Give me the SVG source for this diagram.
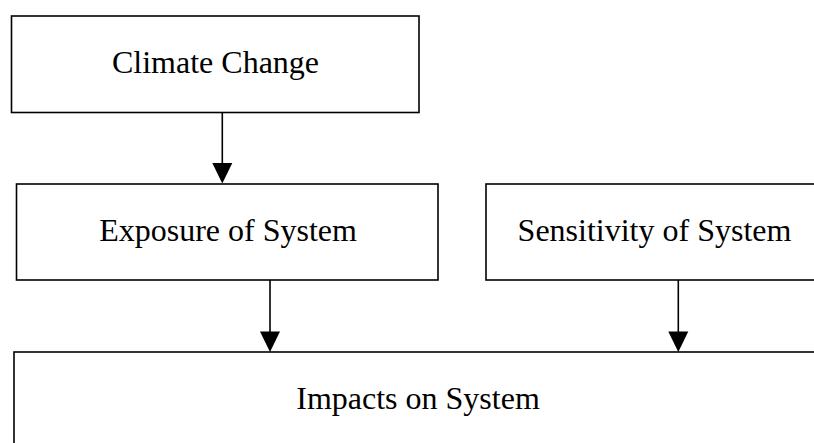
<svg xmlns="http://www.w3.org/2000/svg" width="814" height="443" viewBox="0 0 814 443">
<style>
.box{fill:#fff;stroke:#000;stroke-width:1.6}
.lbl{font-family:"Liberation Serif","Times New Roman",serif;font-size:32px;fill:#000;text-anchor:middle}
.ln{stroke:#000;stroke-width:1.6;fill:none}
.ah{fill:#000}
</style>
<rect width="814" height="443" fill="#fff"/>
<g id="climate-change">
<rect class="box" x="11.5" y="16" width="407.5" height="96.5"/>
<text class="lbl" x="215.5" y="73">Climate Change</text>
</g>
<g id="exposure">
<rect class="box" x="16.5" y="184" width="421.5" height="96"/>
<text class="lbl" x="228" y="241">Exposure of System</text>
</g>
<g id="sensitivity">
<rect class="box" x="486" y="184" width="340" height="96"/>
<text class="lbl" x="654.5" y="241">Sensitivity of System</text>
</g>
<g id="impacts">
<rect class="box" x="14" y="352" width="820" height="110"/>
<text class="lbl" x="418" y="409">Impacts on System</text>
</g>
<g id="connectors">
<line class="ln" x1="222.3" y1="112.5" x2="222.3" y2="164"/>
<polygon class="ah" points="212.3,163 232.3,163 222.3,183.5"/>
<line class="ln" x1="270" y1="280" x2="270" y2="332"/>
<polygon class="ah" points="260,331.5 280,331.5 270,352"/>
<line class="ln" x1="678.3" y1="280" x2="678.3" y2="332"/>
<polygon class="ah" points="668.3,331.5 688.3,331.5 678.3,352"/>
</g>
</svg>
